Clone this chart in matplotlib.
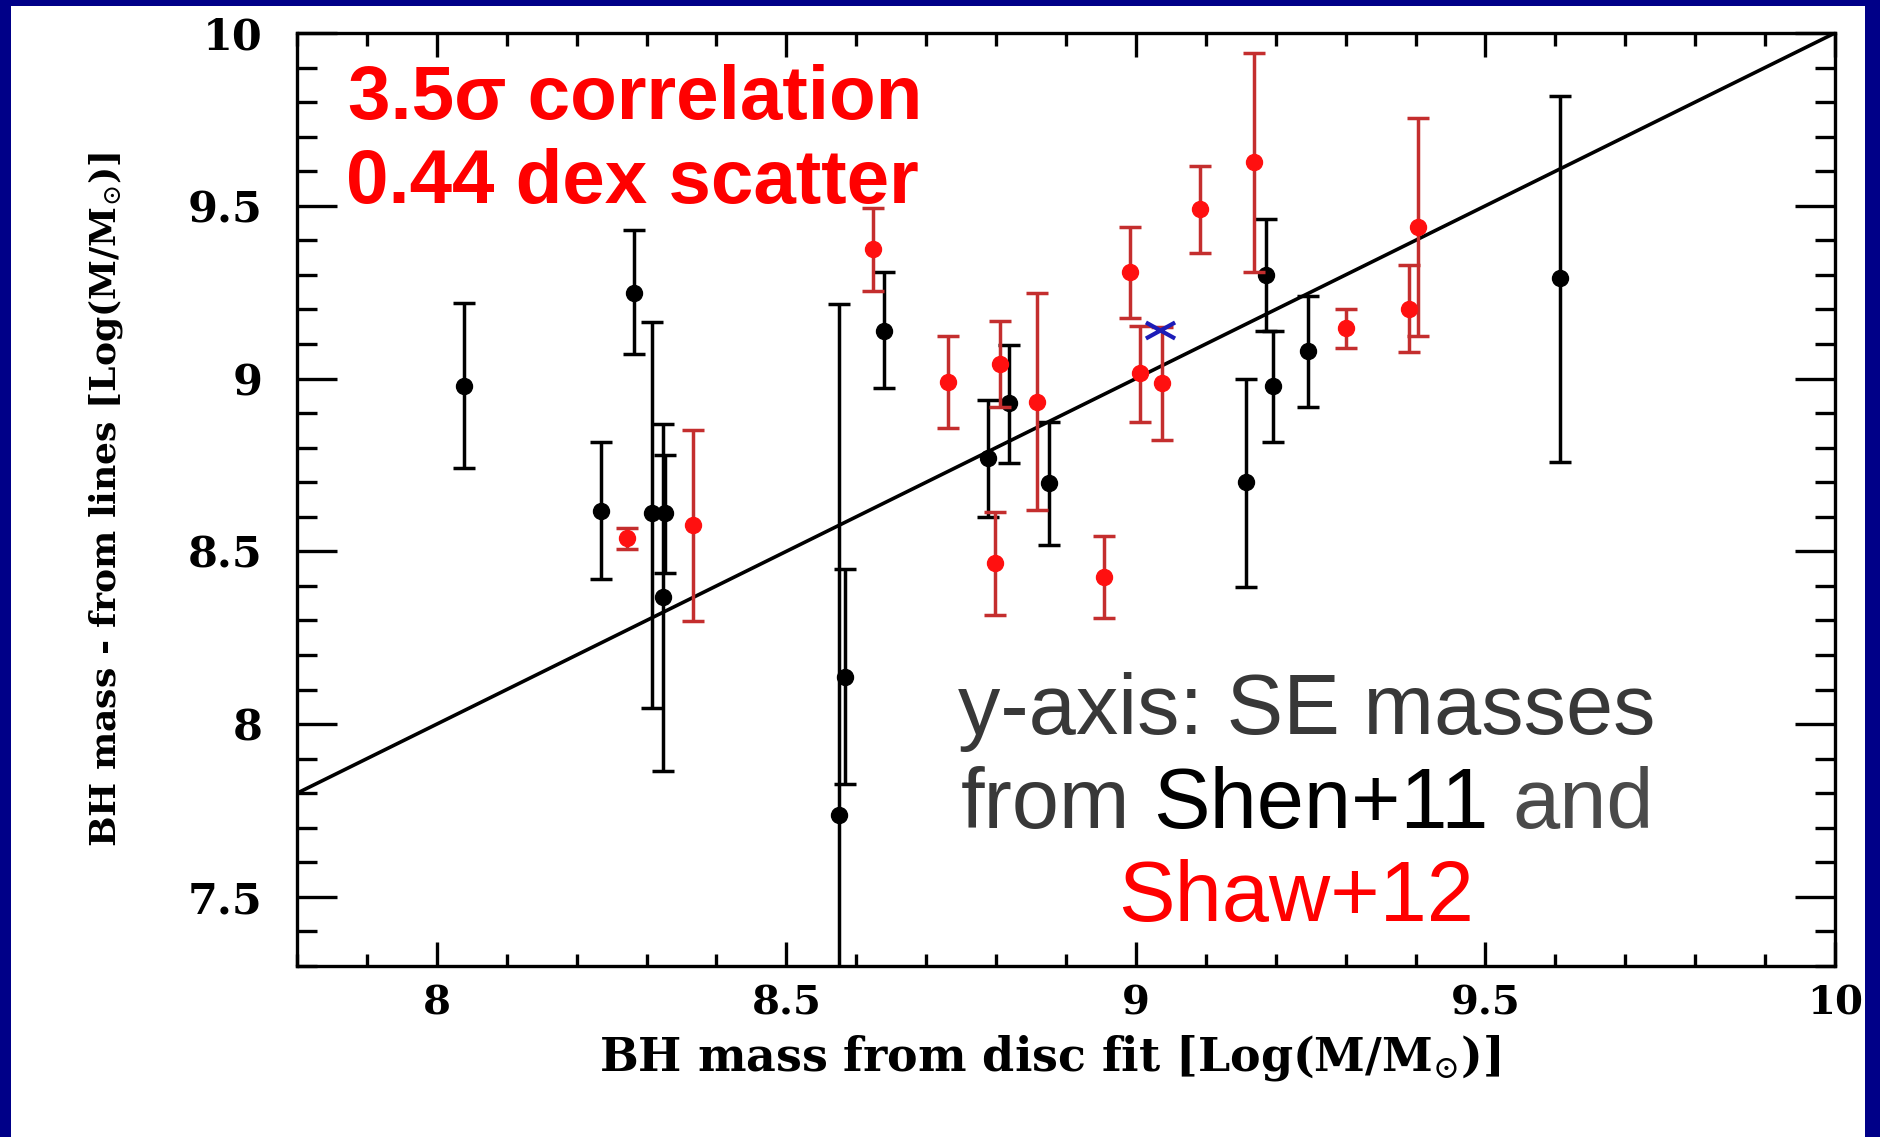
import matplotlib
matplotlib.use("Agg")
import matplotlib.pyplot as plt
import numpy as np
from matplotlib.patches import Rectangle
from matplotlib.path import Path
from matplotlib.ticker import MultipleLocator, FuncFormatter

# Shen+11 single-epoch masses (black)
shen_x = [8.039, 8.235, 8.282, 8.308, 8.326, 8.324, 8.575, 8.584, 8.640,
          8.788, 8.818, 8.875, 9.157, 9.186, 9.196, 9.246, 9.607]
shen_y = [8.979, 8.617, 9.249, 8.611, 8.611, 8.367, 7.737, 8.137, 9.138,
          8.770, 8.929, 8.699, 8.700, 9.300, 8.979, 9.080, 9.290]
shen_lo = [8.741, 8.420, 9.070, 8.047, 8.437, 7.865, 6.260, 7.827, 8.973,
           8.600, 8.757, 8.517, 8.398, 9.139, 8.817, 8.917, 8.758]
shen_hi = [9.219, 8.817, 9.430, 9.165, 8.779, 8.869, 9.216, 8.449, 9.308,
           8.938, 9.097, 8.875, 8.999, 9.461, 9.139, 9.240, 9.819]

# Shaw+12 single-epoch masses (red)
shaw_x = [8.272, 8.366, 8.624, 8.731, 8.805, 8.798, 8.858, 8.954, 8.992,
          9.006, 9.037, 9.092, 9.169, 9.300, 9.390, 9.404]
shaw_y = [8.539, 8.576, 9.375, 8.991, 9.041, 8.466, 8.931, 8.427, 9.308,
          9.015, 8.986, 9.490, 9.626, 9.146, 9.201, 9.440]
shaw_lo = [8.507, 8.299, 9.253, 8.857, 8.917, 8.316, 8.620, 8.307, 9.176,
           8.875, 8.822, 9.363, 9.309, 9.089, 9.078, 9.123]
shaw_hi = [8.568, 8.851, 9.494, 9.123, 9.168, 8.614, 9.247, 8.545, 9.440,
           9.152, 9.150, 9.616, 9.943, 9.200, 9.329, 9.753]

# single object marked with a cross
cross_x = [9.034]
cross_y = [9.141]

# 1:1 relation
one_to_one = [7.8, 10.0]

W, H = 1881, 1137
plt.rcParams['font.family'] = ['DejaVu Serif']
plt.rcParams['mathtext.fontset'] = 'dejavuserif'

fig = plt.figure(figsize=(W / 100, H / 100), dpi=100)
fig.patch.set_facecolor('#000088')
fig.add_artist(Rectangle((11 / W, 0), (1865 - 11) / W, (H - 6) / H,
                         transform=fig.transFigure, facecolor='white',
                         edgecolor='none', zorder=-10))

ax = fig.add_axes([297 / W, 1 - 966 / H, (1835 - 297) / W, (966 - 33) / H])

ax.plot(one_to_one, one_to_one, color='black', lw=2.6, zorder=1)

sx = np.array(shen_x)
sy = np.array(shen_y)
ax.errorbar(sx, sy, yerr=[sy - np.array(shen_lo), np.array(shen_hi) - sy],
            fmt='o', color='black', ms=11.5, elinewidth=2.5, capsize=8,
            capthick=2.5, zorder=2)

rx = np.array(shaw_x)
ry = np.array(shaw_y)
ax.errorbar(rx, ry, yerr=[ry - np.array(shaw_lo), np.array(shaw_hi) - ry],
            fmt='o', color='#ff1010', ecolor='#c42e2e', ms=11.5, elinewidth=2.5,
            capsize=8, capthick=2.5, zorder=3)

xmark = Path([(-1, -0.55), (1, 0.55), (-1, 0.55), (1, -0.55)],
             [Path.MOVETO, Path.LINETO, Path.MOVETO, Path.LINETO])
ax.plot(cross_x, cross_y, linestyle='none', marker=xmark, ms=21, mew=3,
        color='#1c1cb8', zorder=4)

ax.set_xlim(7.8, 10)
ax.set_ylim(7.3, 10)
ax.xaxis.set_major_locator(MultipleLocator(0.5))
ax.xaxis.set_minor_locator(MultipleLocator(0.1))
ax.yaxis.set_major_locator(MultipleLocator(0.5))
ax.yaxis.set_minor_locator(MultipleLocator(0.1))
fmt = FuncFormatter(lambda v, p: '%g' % v)
ax.xaxis.set_major_formatter(fmt)
ax.yaxis.set_major_formatter(fmt)

ax.tick_params(which='both', direction='in', top=True, right=True, width=2.4)
ax.tick_params(axis='x', which='major', length=17, pad=13, labelsize=29)
ax.tick_params(axis='x', which='minor', length=9)
ax.tick_params(axis='y', which='major', length=29, pad=25, labelsize=31)
ax.tick_params(axis='y', which='minor', length=14.5)
for lab in ax.get_xticklabels() + ax.get_yticklabels():
    lab.set_fontweight('bold')
for s in ax.spines.values():
    s.set_linewidth(2.4)

ax.set_xlabel(r'BH mass from disc fit [Log(M/M$_{\odot}$)]', fontsize=33,
              fontweight='bold')
ax.set_ylabel(r'BH mass - from lines [Log(M/M$_{\odot}$)]', fontsize=26,
              fontweight='bold')
ax.xaxis.label.set_va('center')
ax.yaxis.label.set_va('center')
ax.xaxis.set_label_coords(0.5 - 16 / 1538, (966 - 1058) / 933)
ax.yaxis.set_label_coords((106 - 297) / 1538, 0.5)

# red statistics text
sans = ['Liberation Sans', 'DejaVu Sans']
fig.text(348 / W, 1 - 119 / H, '3.5σ correlation', color='#ff0000',
         fontsize=55, fontweight='bold', family=sans, va='baseline')
fig.text(346 / W, 1 - 203 / H, '0.44 dex scatter', color='#ff0000',
         fontsize=55, fontweight='bold', family=sans, va='baseline')

# note on y-axis sources
gray = '#383838'
gray2 = '#4a4a4a'
note_size = 61
fig.text(1307 / W, 1 - 734 / H, 'y-axis: SE masses', color=gray,
         fontsize=note_size, family=sans, ha='center', va='baseline')
fig.text(1296 / W, 1 - 921 / H, 'Shaw+12', color='#ff0000',
         fontsize=note_size, family=sans, ha='center', va='baseline')

renderer = fig.canvas.get_renderer()
parts = [('from', gray), ('Shen+11', 'black'), ('and', gray2)]
pieces = [fig.text(0, 1 - 828 / H, s, color=c, fontsize=note_size,
                   family=sans, va='baseline') for s, c in parts]
probe1 = fig.text(0, 0, 'a a', fontsize=note_size, family=sans)
probe2 = fig.text(0, 0, 'aa', fontsize=note_size, family=sans)
space = (probe1.get_window_extent(renderer).width
         - probe2.get_window_extent(renderer).width)
probe1.remove()
probe2.remove()
widths = [t.get_window_extent(renderer).width for t in pieces]
total = sum(widths) + space * (len(pieces) - 1)
xpos = 1307 - total / 2
for t, w in zip(pieces, widths):
    t.set_x(xpos / W)
    xpos += w + space

fig.savefig('out.png', dpi=100, facecolor=fig.get_facecolor())
